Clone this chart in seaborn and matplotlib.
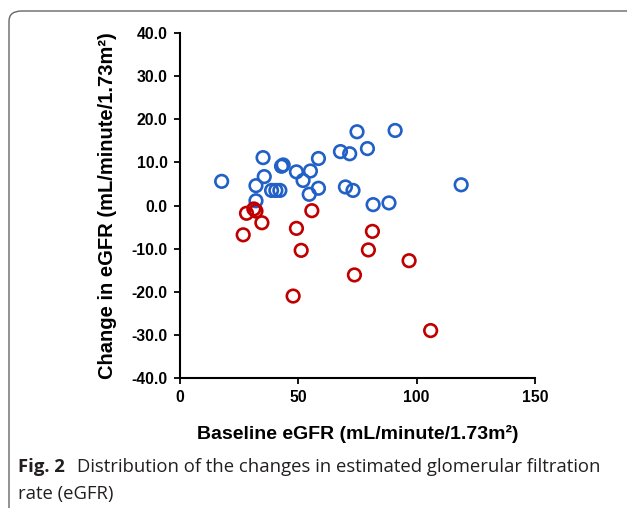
import matplotlib
matplotlib.use("Agg")
import matplotlib.pyplot as plt
import seaborn as sns
import pandas as pd
from matplotlib.patches import FancyBboxPatch

# Increase group (blue)
blue_x = [17.6, 35.1, 35.6, 32.1, 32.1, 38.7, 40.5, 42.2, 42.9, 43.6, 49.2, 52.0, 55.1,
          58.5, 54.6, 58.5, 67.8, 71.7, 74.8, 79.2, 90.9, 69.9, 73.1, 81.6, 88.3, 118.8]
blue_y = [5.6, 11.1, 6.7, 4.6, 1.1, 3.5, 3.5, 3.5, 9.1, 9.4, 7.8, 5.8, 8.0,
          10.9, 2.6, 4.0, 12.5, 12.0, 17.1, 13.2, 17.4, 4.3, 3.5, 0.2, 0.6, 4.8]
# Decrease group (red)
red_x = [28.1, 31.2, 32.1, 34.6, 26.7, 55.7, 49.2, 51.2, 47.8, 81.3, 79.6, 73.7, 96.8, 105.9]
red_y = [-1.8, -0.8, -1.3, -4.0, -6.8, -1.2, -5.3, -10.4, -21.0, -6.0, -10.3, -16.1, -12.8, -29.0]

x_ticks = [0, 50, 100, 150]
y_ticks = [-40, -30, -20, -10, 0, 10, 20, 30, 40]

BLUE = "#2160c6"
RED = "#c00000"

sns.set_theme(style="white")
plt.rcParams['font.family'] = ['Liberation Sans', 'DejaVu Sans']

fig = plt.figure(figsize=(6.27, 5.08), dpi=100)
ax = fig.add_axes([180/627, 1-378/508, 355/627, 345/508])

df_b = pd.DataFrame({"x": blue_x, "y": blue_y})
df_r = pd.DataFrame({"x": red_x, "y": red_y})
for df, col in [(df_b, BLUE), (df_r, RED)]:
    n0 = len(ax.collections)
    sns.scatterplot(data=df, x="x", y="y", ax=ax, s=82, marker="o", color=col,
                    linewidth=1.9, legend=False)
    for c in ax.collections[n0:]:
        c.set_facecolor("none")
        c.set_edgecolor(col)
        c.set_clip_on(False)

ax.set_xlim(0, 150)
ax.set_ylim(-40, 40)
ax.set_xticks(x_ticks)
ax.set_yticks(y_ticks)
ax.set_xticklabels([str(t) for t in x_ticks], fontsize=11.3, fontweight="bold", color="black")
ax.set_yticklabels([f"{t:.1f}" for t in y_ticks], fontsize=11.3, fontweight="bold", color="black")
for s in ["top", "right"]:
    ax.spines[s].set_visible(False)
for s in ["left", "bottom"]:
    ax.spines[s].set_color("black")
    ax.spines[s].set_linewidth(1.5)
ax.tick_params(axis="both", direction="out", length=4, width=1.3, color="black",
               left=True, bottom=True, pad=5)
ax.set_xlabel("Baseline eGFR (mL/minute/1.73m\u00b2)", fontsize=14, fontweight="bold",
              labelpad=14, color="black")
ax.set_ylabel("Change in eGFR (mL/minute/1.73m\u00b2)", fontsize=14.5, fontweight="bold",
              labelpad=10, color="black")
ax.set_facecolor("white")

# frame
frame = FancyBboxPatch((9/627, -0.05), 1.2, 1-11/508 + 0.05,
                       boxstyle="round,pad=0,rounding_size=0.02",
                       transform=fig.transFigure, facecolor="none",
                       edgecolor="#666666", linewidth=1.0, clip_on=False)
fig.patches.append(frame)

cap_font = ['Open Sans', 'DejaVu Sans']
fig.text(18/627, 1-472/508, "Fig. 2", fontsize=13.3, fontweight="bold", family=cap_font,
         va="baseline", color="#231f20")
fig.text(77/627, 1-472/508, "Distribution of the changes in estimated glomerular filtration",
         fontsize=13.3, family=cap_font, va="baseline", color="#231f20")
fig.text(18/627, 1-499/508, "rate (eGFR)", fontsize=13.3, family=cap_font, va="baseline",
         color="#231f20")

fig.savefig("out.png", dpi=100, facecolor="white")
